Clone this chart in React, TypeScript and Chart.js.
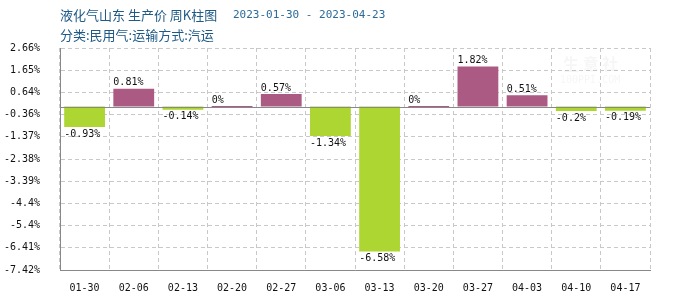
import React, { useEffect, useRef } from "react";
import { Chart, registerables } from "chart.js";
Chart.register(...registerables);

const titleMain = "液化气山东 生产价 周K柱图";
const titleDates = "2023-01-30 - 2023-04-23";
const subtitle = "分类:民用气:运输方式:汽运";
const categories = ["01-30", "02-06", "02-13", "02-20", "02-27", "03-06", "03-13", "03-20", "03-27", "04-03", "04-10", "04-17"];
const values = [-0.93, 0.81, -0.14, 0, 0.57, -1.34, -6.58, 0, 1.82, 0.51, -0.2, -0.19];
const yTickLabels = ["2.66%", "1.65%", "0.64%", "-0.36%", "-1.37%", "-2.38%", "-3.39%", "-4.4%", "-5.4%", "-6.41%", "-7.42%"];
const yMax = 2.66;
const yMin = -7.42;

const POS = "#ab5a84";
const NEG = "#add633";
const MONO = "'DejaVu Sans Mono', 'Liberation Mono', monospace";
const CJK = "'Noto Sans CJK SC', 'Noto Sans', sans-serif";

const decorPlugin = {
  id: "decor",
  afterDraw(chart: any) {
    const ctx = chart.ctx;
    const area = chart.chartArea;
    const y = chart.scales.y;
    ctx.save();
    // zero line
    const zy = Math.round(y.getPixelForValue(0)) + 0.5;
    ctx.strokeStyle = "#888";
    ctx.lineWidth = 1;
    ctx.beginPath();
    ctx.moveTo(area.left, zy);
    ctx.lineTo(area.right, zy);
    ctx.stroke();
    // bars' labels
    const meta = chart.getDatasetMeta(0);
    ctx.font = "10px " + MONO;
    ctx.fillStyle = "#111";
    ctx.textAlign = "left";
    meta.data.forEach((bar: any, i: number) => {
      const v = values[i];
      const left = bar.x - bar.width / 2;
      const txt = v + "%";
      if (v >= 0) {
        ctx.textBaseline = "bottom";
        ctx.fillText(txt, left, Math.min(bar.y, bar.base) - 1);
      } else {
        ctx.textBaseline = "top";
        ctx.fillText(txt, left, Math.max(bar.y, bar.base) + 2);
      }
    });
    // titles
    ctx.textBaseline = "middle";
    ctx.fillStyle = "#1f5a86";
    ctx.font = "13px " + CJK;
    ctx.fillText(titleMain, 60, 15);
    ctx.font = "11px " + MONO;
    ctx.fillStyle = "#2b6a9a";
    ctx.fillText(titleDates, 233, 15);
    ctx.font = "13px " + CJK;
    ctx.fillStyle = "#1f5a86";
    ctx.fillText(subtitle, 60, 35);
    // watermark
    ctx.globalAlpha = 0.08;
    ctx.fillStyle = "#888";
    ctx.font = "bold 16px " + CJK;
    ctx.fillText("生 意 社", 563, 64);
    ctx.font = "10px " + MONO;
    ctx.fillText("100PPI.COM", 560, 80);
    ctx.restore();
  },
};

export default function App() {
  const ref = useRef<HTMLCanvasElement>(null);
  useEffect(() => {
    if (!ref.current) return;
    const step = (yMax - yMin) / (yTickLabels.length - 1);
    const chart = new Chart(ref.current, {
      type: "bar",
      data: {
        labels: categories,
        datasets: [
          {
            data: values,
            backgroundColor: values.map((v) => (v >= 0 ? POS : NEG)),
            barPercentage: 0.83,
            categoryPercentage: 1,
            minBarLength: 1,
            borderWidth: 0,
          },
        ],
      },
      options: {
        animation: false,
        responsive: false,
        devicePixelRatio: 1,
        layout: { padding: { left: 0, right: 50, top: 48, bottom: 0 } },
        plugins: { legend: { display: false }, tooltip: { enabled: false }, title: { display: false } },
        scales: {
          x: {
            grid: { color: "#c8c8c8", drawTicks: false, offset: true },
            border: { color: "#888", dash: [4, 3], display: true },
            ticks: { color: "#111", font: { family: MONO, size: 10 }, padding: 12, maxRotation: 0, autoSkip: false },
            afterFit: (s: any) => { s.height = 30; },
          },
          y: {
            min: yMin,
            max: yMax,
            grid: { color: "#c8c8c8", drawTicks: false },
            border: { color: "#888", dash: [4, 3] },
            ticks: {
              color: "#111",
              font: { family: MONO, size: 10 },
              padding: 20,
              callback: (_v: any, i: number) => yTickLabels[i],
            },
            afterBuildTicks: (s: any) => {
              s.ticks = yTickLabels.map((_, i) => ({ value: yMax - i * step }));
            },
            afterFit: (s: any) => { s.width = 60; },
          },
        },
      },
      plugins: [decorPlugin],
    });
    return () => chart.destroy();
  }, []);
  return (
    <div style={{ position: "fixed", left: 0, top: 0, width: 700, height: 300, background: "#fff" }}>
      <canvas ref={ref} width={700} height={300} />
    </div>
  );
}
